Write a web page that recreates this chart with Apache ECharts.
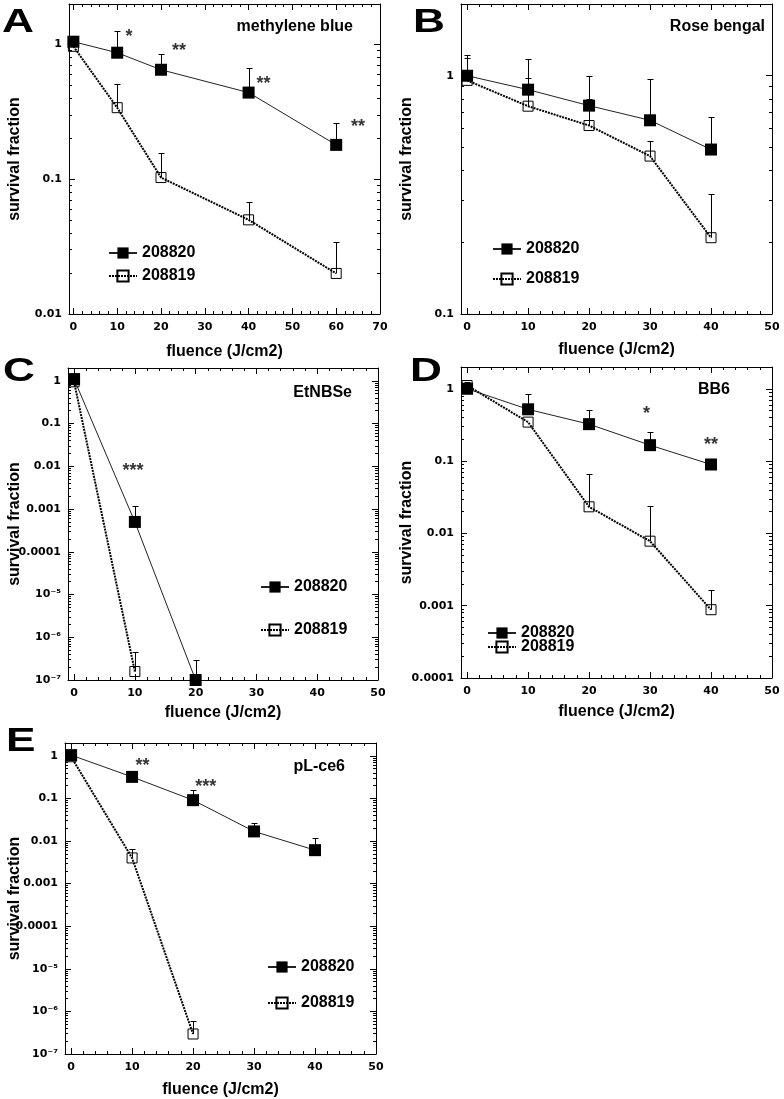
<!DOCTYPE html>
<html>
<head>
<meta charset="utf-8">
<script src="https://cdn.jsdelivr.net/npm/echarts@6/dist/echarts.min.js"></script>
<style>
html, body { margin: 0; padding: 0; background: #fff; }
#chart { width: 784px; height: 1099px; }
</style>
</head>
<body>
<div id="chart"></div>
<script>
// survival fraction vs fluence, strains 208820 (filled) and 208819 (open)
var seriesNames = ['208820', '208819'];
var yTickLabels = ['1', '0.1', '0.01', '0.001', '0.0001', '10⁻⁵', '10⁻⁶', '10⁻⁷'];

// A - methylene blue
var fluenceA = [0, 10, 20, 40, 60];
var sfA820 = [1.05, 0.87, 0.65, 0.44, 0.18];
var errA820 = [1.15, 1.27, 0.85, 0.67, 0.26];
var sfA819 = [0.97, 0.34, 0.103, 0.050, 0.020];
var errA819 = [null, 0.51, 0.157, 0.068, 0.034];
var starsA = [[12.7, 1.22, '*'], [24.1, 0.955, '**'], [43.4, 0.55, '**'], [65, 0.26, '**']];

// B - Rose bengal
var fluenceB = [0, 10, 20, 30, 40];
var sfB820 = [1.0, 0.874, 0.749, 0.65, 0.49];
var errB820 = [1.22, 1.18, 1.0, 0.97, 0.67];
var sfB819 = [0.956, 0.745, 0.618, 0.46, 0.209];
var errB819 = [1.19, 0.98, 0.80, 0.53, 0.32];
var starsB = [];

// C - EtNBSe
var fluenceC820 = [0, 10, 20];
var sfC820 = [1.1, 5.0e-4, 1.0e-7];
var errC820 = [null, 1.19e-3, 2.95e-7];
var fluenceC819 = [0, 10];
var sfC819 = [0.95, 1.58e-7];
var errC819 = [null, 4.5e-7];
var starsC = [[9.7, 0.0094, '***']];

// D - BB6
var fluenceD = [0, 10, 20, 30, 40];
var sfD820 = [1.0, 0.52, 0.324, 0.166, 0.0897];
var errD820 = [null, 0.85, 0.507, 0.251, null];
var sfD819 = [1.11, 0.346, 0.0233, 0.0078, 8.8e-4];
var errD819 = [1.26, null, 0.0667, 0.0243, 1.67e-3];
var starsD = [[29.4, 0.51, '*'], [40, 0.187, '**']];

// E - pL-ce6
var fluenceE820 = [0, 10, 20, 30, 40];
var sfE820 = [1.04, 0.32, 0.091, 0.0168, 0.0061];
var errE820 = [null, 0.445, 0.156, 0.0258, 0.0117];
var fluenceE819 = [0, 10, 20];
var sfE819 = [0.95, 0.0040, 2.95e-7];
var errE819 = [null, 0.0065, 5.85e-7];
var starsE = [[11.7, 0.73, '**'], [22.1, 0.236, '***']];

var panels = [
  { letter: 'A', letterPos: [2, 23], title: 'methylene blue', titlePos: [353, 27],
    grid: { left: 69, top: 4, width: 311, height: 310 }, xMax: 70, yMin: 0.01,
    x820: fluenceA, y820: sfA820, e820: errA820, x819: fluenceA, y819: sfA819, e819: errA819, stars: starsA,
    legend: { left: 108, top: 245, itemGap: 7 }, xGap: 30, yGap: 46 },
  { letter: 'B', letterPos: [413, 23], title: 'Rose bengal', titlePos: [765, 27],
    grid: { left: 461, top: 4, width: 311, height: 310 }, xMax: 50, yMin: 0.1,
    x820: fluenceB, y820: sfB820, e820: errB820, x819: fluenceB, y819: sfB819, e819: errB819, stars: starsB,
    legend: { left: 492, top: 241, itemGap: 14 }, xGap: 28, yGap: 46 },
  { letter: 'C', letterPos: [3, 372], title: 'EtNBSe', titlePos: [352, 393],
    grid: { left: 68, top: 368, width: 310, height: 312 }, xMax: 50, yMin: 1e-7,
    x820: fluenceC820, y820: sfC820, e820: errC820, x819: fluenceC819, y819: sfC819, e819: errC819, stars: starsC,
    legend: { left: 260, top: 579, itemGap: 27 }, xGap: 25, yGap: 45 },
  { letter: 'D', letterPos: [410, 372], title: 'BB6', titlePos: [730, 390],
    grid: { left: 461, top: 367, width: 311, height: 311 }, xMax: 50, yMin: 1e-4,
    x820: fluenceD, y820: sfD820, e820: errD820, x819: fluenceD, y819: sfD819, e819: errD819, stars: starsD,
    legend: { left: 487, top: 625, itemGap: -2 }, xGap: 26, yGap: 46 },
  { letter: 'E', letterPos: [6, 742], title: 'pL-ce6', titlePos: [345, 767],
    grid: { left: 65, top: 743, width: 311, height: 311 }, xMax: 50, yMin: 1e-7,
    x820: fluenceE820, y820: sfE820, e820: errE820, x819: fluenceE819, y819: sfE819, e819: errE819, stars: starsE,
    legend: { left: 267, top: 959, itemGap: 20 }, xGap: 28, yGap: 42 }
];

var black = '#000';
var labelFont = { fontFamily: 'DejaVu Sans', fontWeight: 'bold', fontSize: 11, color: black };
var nameFont = { fontFamily: 'Liberation Sans', fontWeight: 'bold', fontSize: 16, color: black };

function zip(xs, ys) {
  return xs.map(function (x, k) { return [x, ys[k]]; });
}

function xLabel(v) {
  return (v >= 0 && v % 10 === 0) ? String(v) : '';
}

function yLabel(v) {
  var lg = Math.log10(v);
  var k = Math.round(-lg);
  if (Math.abs(lg + k) > 1e-6 || k < 0 || k >= yTickLabels.length) return '';
  return yTickLabels[k];
}

function errorBars(i, xs, ys, ups) {
  var data = [];
  xs.forEach(function (x, k) {
    if (ups[k] != null) data.push([x, ys[k], ups[k]]);
  });
  return {
    type: 'custom', xAxisIndex: 2 * i, yAxisIndex: 2 * i, z: 2, silent: true,
    data: data, encode: { x: 0, y: [1, 2] },
    renderItem: function (params, api) {
      var p0 = api.coord([api.value(0), api.value(1)]);
      var p1 = api.coord([api.value(0), api.value(2)]);
      var x = Math.round(p0[0]) + 0.5;
      var yTop = Math.round(p1[1]) + 0.5;
      return {
        type: 'group',
        children: [
          { type: 'line', shape: { x1: x, y1: p0[1], x2: x, y2: yTop }, style: { stroke: black, lineWidth: 1 } },
          { type: 'line', shape: { x1: x - 3, y1: yTop, x2: x + 3, y2: yTop }, style: { stroke: black, lineWidth: 1 } }
        ]
      };
    }
  };
}

var grids = [], xAxes = [], yAxes = [], series = [], legends = [], graphics = [];

panels.forEach(function (p, i) {
  grids.push(Object.assign({ containLabel: false, outerBoundsMode: 'none' }, p.grid));

  var xBase = {
    gridIndex: i, type: 'value', min: -1, max: p.xMax, splitNumber: p.xMax / 10,
    axisLine: { onZero: false, lineStyle: { color: black, width: 1 } },
    axisTick: { inside: true, length: 6, lineStyle: { color: black } },
    minorTick: { show: true, splitNumber: 5, length: 3, lineStyle: { color: black } },
    splitLine: { show: false }
  };
  xAxes.push(Object.assign({}, xBase, {
    position: 'bottom',
    axisLabel: Object.assign({ margin: 8, formatter: xLabel, showMinLabel: true }, labelFont),
    name: 'fluence (J/cm2)', nameLocation: 'middle', nameGap: p.xGap, nameMoveOverlap: false,
    nameTextStyle: nameFont
  }));
  xAxes.push(Object.assign({}, xBase, { position: 'top', axisLabel: { show: false } }));

  var yBase = {
    gridIndex: i, type: 'log', logBase: 10, min: p.yMin, max: 2, splitNumber: 10,
    axisLine: { onZero: false, lineStyle: { color: black, width: 1 } },
    axisTick: { inside: true, length: 6, lineStyle: { color: black } },
    minorTick: { show: true, splitNumber: 9, length: 3, lineStyle: { color: black } },
    splitLine: { show: false }
  };
  yAxes.push(Object.assign({}, yBase, {
    position: 'left',
    axisLabel: Object.assign({ margin: 7, formatter: yLabel }, labelFont),
    name: 'survival fraction', nameLocation: 'middle', nameGap: p.yGap, nameMoveOverlap: false,
    nameTextStyle: nameFont
  }));
  yAxes.push(Object.assign({}, yBase, { position: 'right', axisLabel: { show: false } }));

  series.push({
    name: seriesNames[0], type: 'line', xAxisIndex: 2 * i, yAxisIndex: 2 * i, z: 3,
    data: zip(p.x820, p.y820), symbol: 'rect', symbolSize: 12, showAllSymbol: true,
    lineStyle: { color: '#222', width: 1 },
    itemStyle: { color: black, borderColor: black, borderWidth: 0 },
    emphasis: { disabled: true }
  });
  series.push({
    name: seriesNames[1], type: 'line', xAxisIndex: 2 * i, yAxisIndex: 2 * i, z: 3,
    data: zip(p.x819, p.y819), symbol: 'rect', symbolSize: 10, showAllSymbol: true,
    lineStyle: { color: black, width: 2, type: [2, 1] },
    itemStyle: { color: 'rgba(255,255,255,0)', borderColor: black, borderWidth: 1 },
    emphasis: { disabled: true }
  });
  series.push(errorBars(i, p.x820, p.y820, p.e820));
  series.push(errorBars(i, p.x819, p.y819, p.e819));
  if (p.stars.length) {
    series.push({
      type: 'scatter', xAxisIndex: 2 * i, yAxisIndex: 2 * i, z: 4, silent: true,
      symbolSize: 0, data: p.stars,
      label: {
        show: true, position: 'inside', offset: [0, 4],
        formatter: function (d) { return d.value[2]; },
        fontFamily: 'Liberation Sans', fontWeight: 'bold', fontSize: 18, color: black
      }
    });
  }

  legends.push({
    orient: 'vertical', left: p.legend.left, top: p.legend.top, padding: 0,
    itemGap: p.legend.itemGap, itemWidth: 28, itemHeight: 14,
    data: seriesNames, selectedMode: false,
    textStyle: { fontFamily: 'Liberation Sans', fontWeight: 'bold', fontSize: 16, color: black }
  });

  graphics.push({
    type: 'text', x: p.letterPos[0], y: p.letterPos[1], scaleX: 1.3,
    style: { text: p.letter, fill: black, font: 'bold 34px "Liberation Sans"', verticalAlign: 'middle' }
  });
  graphics.push({
    type: 'text', x: p.titlePos[0], y: p.titlePos[1],
    style: { text: p.title, fill: black, font: 'bold 16px "Liberation Sans"', align: 'right', verticalAlign: 'middle' }
  });
});

var myChart = echarts.init(document.getElementById('chart'));
myChart.setOption({
  backgroundColor: '#fff',
  animation: false,
  grid: grids,
  xAxis: xAxes,
  yAxis: yAxes,
  legend: legends,
  graphic: graphics,
  series: series
});
</script>
</body>
</html>
